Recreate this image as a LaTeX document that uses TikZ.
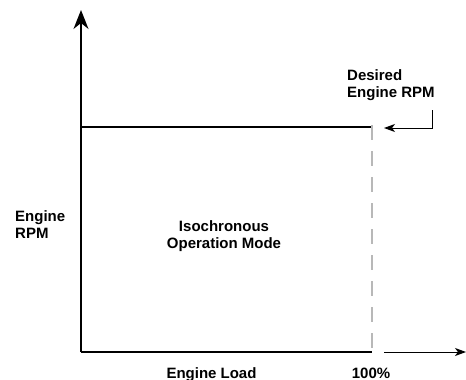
\documentclass[tikz,border=0pt]{standalone}
\usepackage{fontspec}
\setmainfont{Liberation Sans}
\usetikzlibrary{arrows.meta}
\begin{document}
\begin{tikzpicture}[x=1pt,y=-1pt,
  axis/.style={line width=1.6pt,draw=black},
  thinarrow/.style={line width=0.9pt,-{Stealth[length=11pt,width=8pt,inset=3pt]}},
  guide/.style={line width=1.3pt,draw=black!28,dash pattern=on 15pt off 11pt},
  lbl/.style={font=\bfseries\fontsize{15}{17}\selectfont,inner sep=0pt}]
\path[use as bounding box] (0,0) rectangle (466,380);
% key points of the plot
\coordinate (o) at (81,352);
\coordinate (ytop) at (81,10);
\coordinate (xend) at (372,352);
\coordinate (setL) at (81,127);
\coordinate (setR) at (372,127);
\coordinate (xa) at (384,352);
\coordinate (xb) at (466,352);
\coordinate (b1) at (432,110);
\coordinate (b2) at (432,128);
\coordinate (b3) at (384,128);
% axes
\draw[axis,-{Stealth[length=19pt,width=15pt,inset=6pt]}] (o) -- (ytop);
\draw[axis] (o) -- (xend);
\draw[thinarrow] (xa) -- (xb);
% set-speed line and load limit
\draw[line width=1.6pt] (setL) -- (setR);
\draw[guide] ([yshift=2pt]setR) -- (xend);
% pointer to the set-speed line
\draw[thinarrow] (b1) -- (b2) -- (b3);
% labels
\node[lbl,anchor=west,align=left] (des) at (347,85.5) {Desired\\Engine RPM};
\node[lbl,anchor=west,align=left] (yl) at (15,225) {Engine\\RPM};
\node[lbl,align=center] (mode) at (224,236) {Isochronous\\Operation Mode};
\node[lbl,anchor=base] (xl) at (211.5,378) {Engine Load};
\node[lbl,anchor=base] (pc) at (371,378) {100\%};
\end{tikzpicture}
\end{document}
